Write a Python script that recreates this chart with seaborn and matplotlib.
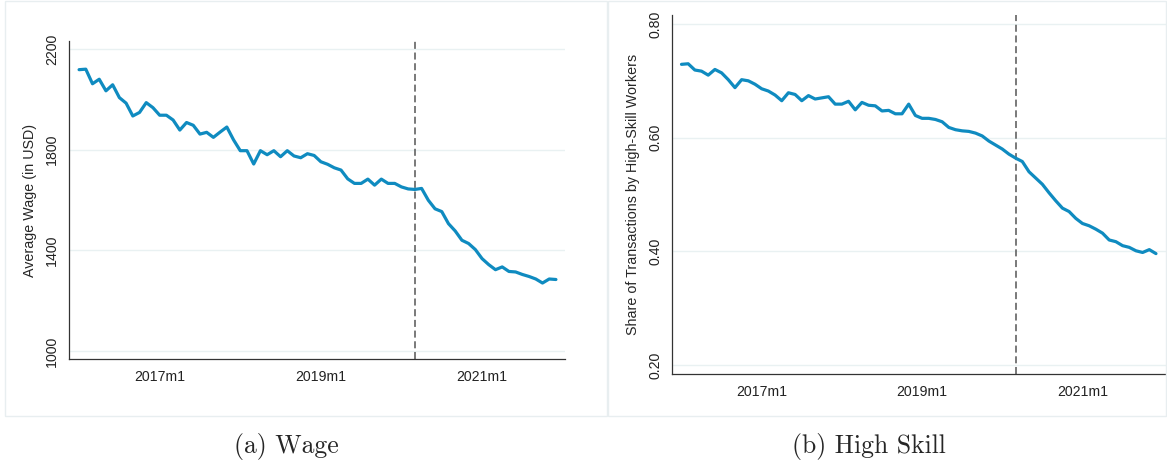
import numpy as np
import pandas as pd
import matplotlib
matplotlib.use("Agg")
import matplotlib.pyplot as plt
import seaborn as sns
from matplotlib.patches import Rectangle

# monthly series, 2016m1 .. 2021m12
months = pd.period_range("2016-01", "2021-12", freq="M")

wage = [2118, 2120, 2062, 2080, 2034, 2058, 2007, 1985, 1934, 1948,
        1987, 1967, 1937, 1937, 1918, 1878, 1908, 1897, 1862, 1869,
        1849, 1870, 1890, 1839, 1796, 1796, 1743, 1796, 1780, 1796,
        1772, 1796, 1775, 1768, 1784, 1777, 1752, 1742, 1728, 1719,
        1684, 1666, 1666, 1683, 1659, 1683, 1666, 1666, 1652, 1644,
        1642, 1646, 1599, 1565, 1554, 1506, 1477, 1440, 1427, 1403,
        1367, 1343, 1323, 1334, 1316, 1314, 1304, 1296, 1286, 1270,
        1286, 1284]

high_skill = [0.729, 0.730, 0.719, 0.717, 0.710, 0.720, 0.714, 0.702, 0.688, 0.702,
              0.700, 0.694, 0.686, 0.682, 0.675, 0.665, 0.679, 0.676, 0.665, 0.674,
              0.668, 0.670, 0.672, 0.659, 0.659, 0.664, 0.649, 0.662, 0.657, 0.656,
              0.647, 0.648, 0.642, 0.642, 0.659, 0.639, 0.634, 0.634, 0.632, 0.628,
              0.618, 0.614, 0.612, 0.611, 0.608, 0.603, 0.594, 0.587, 0.580, 0.571,
              0.564, 0.558, 0.540, 0.529, 0.518, 0.503, 0.489, 0.476, 0.470, 0.458,
              0.449, 0.445, 0.439, 0.432, 0.420, 0.417, 0.410, 0.407, 0.401, 0.398,
              0.403, 0.396]

xtick_months = ["2017-01", "2019-01", "2021-01"]
xtick_labels = ["2017m1", "2019m1", "2021m1"]
event_month = "2020-03"

wage_ticks = [1000, 1400, 1800, 2200]
wage_ticklabels = ["1000", "1400", "1800", "2200"]
skill_ticks = [0.2, 0.4, 0.6, 0.8]
skill_ticklabels = ["0.20", "0.40", "0.60", "0.80"]

df = pd.DataFrame({"t": np.arange(len(months)), "wage": wage, "high_skill": high_skill})
tick_pos = [months.get_loc(pd.Period(m, freq="M")) for m in xtick_months]
event_pos = months.get_loc(pd.Period(event_month, freq="M"))

sns.set_style("white")
plt.rcParams["font.family"] = ["Liberation Sans", "DejaVu Sans"]

line_col = "#0f8bc0"
grid_col = "#e9f1f2"
frame_col = "#e8eef0"

fig = plt.figure(figsize=(11.67, 4.70), dpi=100)

# light frames around the two graph images
fig.add_artist(Rectangle((5 / 1167, 54 / 470), 602 / 1167, 415 / 470, transform=fig.transFigure,
                         fill=False, edgecolor=frame_col, lw=1))
fig.add_artist(Rectangle((608 / 1167, 54 / 470), 558 / 1167, 415 / 470, transform=fig.transFigure,
                         fill=False, edgecolor=frame_col, lw=1))

ax1 = fig.add_axes([69 / 1167, 111 / 470, 496 / 1167, 318 / 470])
ax2 = fig.add_axes([672 / 1167, 96 / 470, 494 / 1167, 359 / 470])

panels = [
    (ax1, "wage", "Average Wage (in USD)", wage_ticks, wage_ticklabels, (968, 2232), (-1.5, 72.35)),
    (ax2, "high_skill", "Share of Transactions by High-Skill Workers", skill_ticks, skill_ticklabels,
     (0.1842, 0.8158), (-1.42, 72.5)),
]

for ax, col, ylab, yt, ytl, ylim, xlim in panels:
    for v in yt:
        ax.axhline(v, color=grid_col, lw=1, zorder=0)
    sns.lineplot(data=df, x="t", y=col, ax=ax, color=line_col, linewidth=2.3, zorder=3)
    ax.axvline(event_pos, color="#555555", lw=1.1, dashes=(4.6, 2.4), zorder=2)
    ax.set_ylim(*ylim)
    ax.set_xlim(*xlim)
    ax.set_yticks(yt)
    ax.set_yticklabels(ytl, rotation=90, va="center")
    ax.set_xticks(tick_pos)
    ax.set_xticklabels(xtick_labels)
    ax.set_xlabel("")
    ax.set_ylabel(ylab, fontsize=10.3, labelpad=6)
    ax.tick_params(axis="both", direction="out", length=4, width=0.8, color="#333333",
                   labelsize=10.2, labelcolor="#222222", pad=3)
    ax.tick_params(axis="x", pad=4)
    sns.despine(ax=ax)
    for s in ["left", "bottom"]:
        ax.spines[s].set_color("#333333")
        ax.spines[s].set_linewidth(0.9)
    ax.grid(False)

fig.text(286 / 1167, 23 / 470, "(a) Wage", fontfamily="cmr10", fontsize=18.5, ha="center", va="center")
fig.text(869 / 1167, 23 / 470, "(b) High Skill", fontfamily="cmr10", fontsize=18.5, ha="center", va="center")

fig.savefig("out.png", dpi=100)
